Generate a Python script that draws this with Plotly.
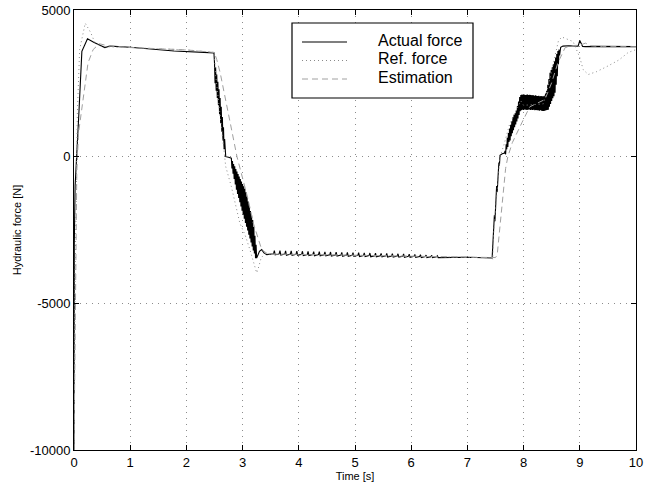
import plotly.graph_objects as go

# ---------------- data ----------------
# Actual force (solid black)
act_t_start = [0.0, 0.005, 0.02, 0.05, 0.09, 0.14, 0.24, 0.35, 0.44, 0.5, 0.55, 0.64, 1.0, 1.78, 2.0, 2.47, 2.49]
act_f_start = [-10000, -3000, -1000, 0, 1600, 3590, 4020, 3900, 3820, 3740, 3720, 3770, 3730, 3600, 3580, 3545, 3540]

act_t_fall1 = [2.50, 2.51, 2.52, 2.53, 2.54, 2.55, 2.56, 2.57, 2.58, 2.59, 2.60, 2.61, 2.62, 2.63, 2.64,
               2.65, 2.66, 2.67, 2.68, 2.69, 2.70, 2.75, 2.80]
act_f_fall1 = [3200, 2500, 3050, 2250, 2800, 2000, 2550, 1750, 2300, 1450, 2000, 1150, 1700, 850, 1350,
               550, 1000, 250, 600, 50, 0, -20, -50]

act_t_fall2 = [2.81, 2.82, 2.83, 2.84, 2.85, 2.86, 2.87, 2.88, 2.89, 2.90, 2.91, 2.92, 2.93, 2.94, 2.95,
               2.96, 2.97, 2.98, 2.99, 3.00, 3.01, 3.02, 3.03, 3.04, 3.05, 3.06, 3.07, 3.08, 3.09, 3.10,
               3.11, 3.12, 3.13, 3.14, 3.15, 3.16, 3.17, 3.18, 3.19, 3.20, 3.21, 3.22, 3.23, 3.24, 3.25,
               3.27, 3.30, 3.34, 3.38, 3.43, 3.50]
act_f_fall2 = [-400, -150, -580, -250, -760, -330, -950, -420, -1130, -510, -1270, -590, -1410, -680, -1550,
               -760, -1700, -850, -1840, -930, -1980, -1010, -2120, -1090, -2260, -1210, -2390, -1370, -2520, -1530,
               -2660, -1690, -2790, -1850, -2930, -2000, -3060, -2160, -3200, -2400, -3300, -2700, -3460, -3000, -3460,
               -3350, -3230, -3170, -3280, -3340, -3320]

act_t_flat = [3.55, 3.565, 3.58, 3.65, 3.665, 3.68, 3.75, 3.765, 3.78, 3.85, 3.865, 3.88,
              3.95, 3.965, 3.98, 4.05, 4.065, 4.08, 4.15, 4.165, 4.18, 4.25, 4.265, 4.28,
              4.35, 4.365, 4.38, 4.45, 4.465, 4.48, 4.55, 4.565, 4.58, 4.65, 4.665, 4.68,
              4.75, 4.765, 4.78, 4.85, 4.865, 4.88, 4.95, 4.965, 4.98, 5.05, 5.065, 5.08,
              5.15, 5.165, 5.18, 5.25, 5.265, 5.28, 5.35, 5.365, 5.38, 5.45, 5.465, 5.48,
              5.55, 5.565, 5.58, 5.65, 5.665, 5.68, 5.75, 5.765, 5.78, 5.85, 5.865, 5.88,
              5.95, 5.965, 5.98, 6.05, 6.065, 6.08, 6.15, 6.165, 6.18, 6.25, 6.265, 6.28,
              6.35, 6.365, 6.38, 6.45, 6.465, 6.48, 7.0, 7.44]
act_f_flat = [-3312, -3200, -3350, -3315, -3205, -3355, -3319, -3210, -3359, -3322, -3215, -3362,
              -3326, -3220, -3366, -3329, -3225, -3369, -3333, -3230, -3373, -3336, -3235, -3376,
              -3340, -3240, -3380, -3343, -3245, -3383, -3347, -3250, -3387, -3350, -3255, -3390,
              -3354, -3260, -3394, -3357, -3265, -3397, -3361, -3270, -3401, -3364, -3275, -3404,
              -3368, -3280, -3408, -3371, -3285, -3411, -3375, -3290, -3415, -3378, -3295, -3418,
              -3382, -3300, -3420, -3385, -3305, -3423, -3389, -3310, -3426, -3392, -3315, -3429,
              -3396, -3325, -3432, -3399, -3335, -3434, -3403, -3345, -3437, -3406, -3355, -3438,
              -3410, -3365, -3440, -3413, -3380, -3441, -3430, -3455]

act_t_rise1 = [7.45, 7.46, 7.47, 7.48, 7.49, 7.50, 7.51, 7.52, 7.53, 7.54, 7.55, 7.56, 7.57, 7.58, 7.62, 7.66]
act_f_rise1 = [-3000, -2500, -2650, -2000, -2200, -1550, -1750, -1000, -1200, -600, -750, -200, -300, 50, 100, 120]

act_t_rise2 = [7.67, 7.68, 7.69, 7.70, 7.71, 7.72, 7.73, 7.74, 7.75, 7.76, 7.77, 7.78, 7.79, 7.80,
               7.81, 7.82, 7.83, 7.84, 7.85, 7.86, 7.87, 7.88, 7.89, 7.90, 7.91, 7.92, 7.93, 7.94]
act_f_rise2 = [200, 80, 420, 250, 640, 330, 810, 500, 960, 550, 1090, 700, 1210, 800,
               1340, 900, 1430, 1000, 1480, 1100, 1570, 1200, 1730, 1300, 1880, 1420, 2030, 1550]

act_t_plat = [7.95, 7.96, 7.97, 7.98, 7.99, 8.00, 8.01, 8.02, 8.03, 8.04, 8.05, 8.06, 8.07, 8.08,
              8.09, 8.10, 8.11, 8.12, 8.13, 8.14, 8.15, 8.16, 8.17, 8.18, 8.19, 8.20, 8.21, 8.22,
              8.23, 8.24, 8.25, 8.26, 8.27, 8.28, 8.29, 8.30, 8.31, 8.32, 8.33, 8.34, 8.35, 8.36,
              8.37, 8.38]
act_f_plat = [2100, 1580, 2120, 1600, 2110, 1590, 2120, 1610, 2100, 1600, 2110, 1590, 2120, 1600,
              2100, 1610, 2110, 1590, 2100, 1600, 2090, 1590, 2100, 1600, 2080, 1580, 2090, 1590,
              2080, 1580, 2070, 1580, 2080, 1570, 2060, 1580, 2070, 1570, 2060, 1560, 2060, 1560,
              2080, 1570]

act_t_rise3 = [8.39, 8.40, 8.41, 8.42, 8.43, 8.44, 8.45, 8.46, 8.47, 8.48, 8.49, 8.50, 8.51, 8.52,
               8.53, 8.54, 8.55, 8.56, 8.57, 8.58, 8.59, 8.60, 8.61, 8.62, 8.63, 8.64, 8.66, 8.70,
               8.80, 8.97, 9.00, 9.05, 9.10, 9.30, 10.0]
act_f_rise3 = [2150, 1580, 2250, 1590, 2450, 1600, 2650, 1700, 2860, 1800, 2950, 1900, 3050, 1990,
               3150, 2060, 3250, 2180, 3380, 2450, 3500, 2740, 3600, 3150, 3650, 3450, 3730, 3770,
               3780, 3770, 3960, 3760, 3750, 3760, 3750]

act_t = act_t_start + act_t_fall1 + act_t_fall2 + act_t_flat + act_t_rise1 + act_t_rise2 + act_t_plat + act_t_rise3
act_f = act_f_start + act_f_fall1 + act_f_fall2 + act_f_flat + act_f_rise1 + act_f_rise2 + act_f_plat + act_f_rise3

# Reference force (dotted gray)
ref_t = [0.0, 0.02, 0.06, 0.10, 0.20, 0.30, 0.37, 0.50, 1.0, 2.0, 2.48, 2.50, 2.52, 2.56, 2.60, 2.65,
         2.70, 2.80, 2.95, 3.05, 3.13, 3.25, 3.28, 3.33, 3.40, 3.50, 5.0, 7.44, 7.45, 7.47, 7.50,
         7.55, 7.58, 7.65, 7.75, 7.85, 7.95, 8.00, 8.35, 8.45, 8.55, 8.62, 8.68, 8.80, 8.88, 9.00,
         9.06, 9.15, 9.30, 9.48, 9.70, 9.86, 10.0]
ref_f = [-10000, -4000, 1500, 3650, 4550, 4220, 3890, 3750, 3720, 3640, 3560, 3400, 2800, 2100, 1400, 500,
         -340, -1020, -2260, -2700, -3170, -3960, -3800, -3450, -3300, -3330, -3360, -3450, -3500, -2500, -1800,
         -700, 0, 400, 1100, 1500, 1900, 1750, 1800, 2500, 3400, 3950, 4080, 4000, 3925, 3380,
         2970, 2800, 2900, 3070, 3300, 3550, 3650]

# Estimation (dashed light gray)
est_t = [0.0, 0.01, 0.03, 0.05, 0.08, 0.17, 0.25, 0.34, 0.45, 0.60, 1.0, 2.0, 2.50, 2.51, 2.54, 2.60,
         2.69, 2.78, 2.90, 2.98, 3.10, 3.19, 3.28, 3.34, 3.45, 3.60, 5.0, 7.44, 7.50, 7.53, 7.58,
         7.63, 7.68, 7.72, 7.80, 7.97, 8.11, 8.38, 8.50, 8.61, 8.74, 8.90, 9.00, 9.10, 9.20, 9.40, 10.0]
est_f = [-10000, -8000, -4000, -500, 800, 2170, 3200, 3650, 3850, 3780, 3720, 3640, 3550, 3480, 3310, 2870,
         2060, 1150, 0, -560, -1470, -2260, -2830, -3170, -3320, -3320, -3360, -3450, -3440, -3350, -2300,
         -1200, -400, 0, 480, 1160, 1700, 1950, 2525, 3200, 3720, 3790, 3800, 3870, 3780, 3750, 3750]

series_names = ["Actual force", "Ref. force", "Estimation"]
x_ticks = [0, 1, 2, 3, 4, 5, 6, 7, 8, 9, 10]
y_ticks = [-10000, -5000, 0, 5000]
y_ticktext = ["-10000", "-5000", "0", "5000"]

# ---------------- figure ----------------
FONT = "Liberation Sans, Arial, Helvetica, sans-serif"
fig = go.Figure()
fig.add_trace(go.Scatter(x=act_t, y=act_f, mode="lines", name=series_names[0],
                         line=dict(color="black", width=1.1), showlegend=False))
fig.add_trace(go.Scatter(x=ref_t, y=ref_f, mode="lines", name=series_names[1],
                         line=dict(color="#8a8a8a", width=1, dash="1px,3px"), showlegend=False))
fig.add_trace(go.Scatter(x=est_t, y=est_f, mode="lines", name=series_names[2],
                         line=dict(color="#a0a0a0", width=1, dash="6px,4px"), showlegend=False))

axis_common = dict(showline=True, linecolor="black", linewidth=1, mirror="ticks",
                   ticks="inside", ticklen=5, tickcolor="black", tickwidth=1,
                   showgrid=True, gridcolor="#8c8c8c", griddash="1px,5px", gridwidth=1,
                   zeroline=False, automargin=False,
                   tickfont=dict(family=FONT, size=13, color="black"))

fig.update_xaxes(range=[0, 10], tickvals=x_ticks, ticktext=[str(v) for v in x_ticks],
                 title=dict(text="Time [s]", font=dict(family=FONT, size=11, color="black"), standoff=2),
                 **axis_common)
fig.update_yaxes(range=[-10000, 5000], tickvals=y_ticks, ticktext=y_ticktext,
                 title=dict(text="Hydraulic force [N]", font=dict(family=FONT, size=11, color="black"), standoff=6),
                 **axis_common)

# legend box drawn MATLAB-style
px0, px1, py0, py1 = 74, 636, 10, 450
def xp(px):
    return (px - px0) / (px1 - px0)
def yp(py):
    return (py1 - py) / (py1 - py0)

fig.add_shape(type="rect", xref="paper", yref="paper", x0=xp(292), x1=xp(473), y0=yp(98), y1=yp(23),
              line=dict(color="black", width=1.2), fillcolor="white", layer="above")
styles = [dict(color="black", width=1.1), dict(color="#8a8a8a", width=1, dash="1px,3px"),
          dict(color="#a0a0a0", width=1, dash="6px,4px")]
rows = [42, 60.5, 79]
for name, st, ry in zip(series_names, styles, rows):
    fig.add_shape(type="line", xref="paper", yref="paper", x0=xp(302), x1=xp(347), y0=yp(ry), y1=yp(ry),
                  line=st, layer="above")
    fig.add_annotation(xref="paper", yref="paper", x=xp(376), y=yp(ry - 1.5), text=name, showarrow=False,
                       xanchor="left", yanchor="middle", font=dict(family=FONT, size=16, color="black"))

fig.update_layout(width=663, height=488, margin=dict(l=74, r=27, t=10, b=38),
                  paper_bgcolor="white", plot_bgcolor="white", showlegend=False,
                  font=dict(family=FONT, color="black"))

fig.write_html("out.html")
